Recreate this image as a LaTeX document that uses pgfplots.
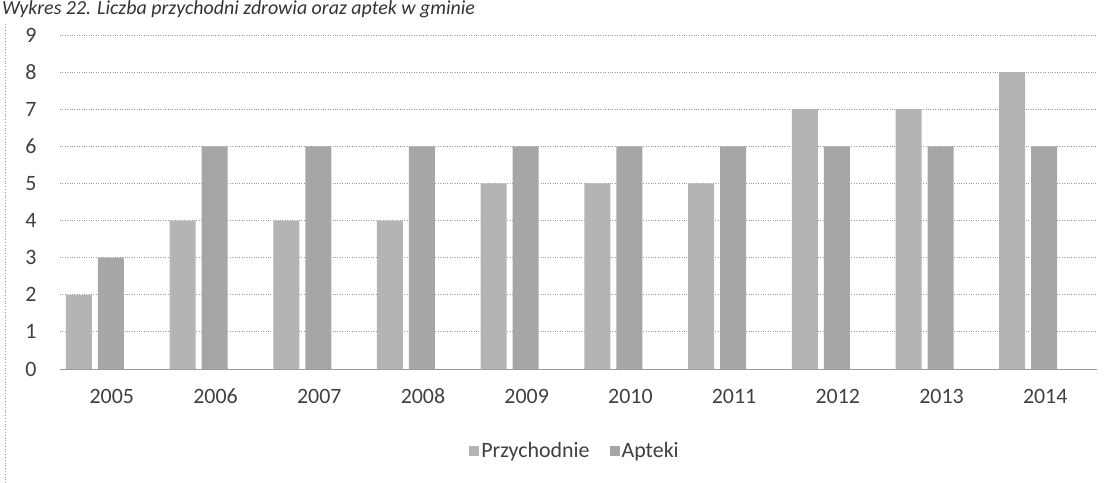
\documentclass[border=0pt]{standalone}
\usepackage{pgfplots}
\pgfplotsset{compat=1.18}
\usepackage{fontspec}
\setmainfont{Carlito}
\definecolor{txt}{HTML}{404040}
\definecolor{gridc}{HTML}{9A9A9A}
\definecolor{cprz}{HTML}{B4B4B4}
\definecolor{capt}{HTML}{A6A6A6}
\begin{document}
\begin{tikzpicture}
\begin{axis}[
  at={(0,0)}, anchor=south west,
  scale only axis,
  width=1037bp, height=334bp,
  ybar,
  bar width=26bp,
  xmin=-0.5, xmax=9.5,
  ymin=0, ymax=9,
  xtick={0,1,2,3,4,5,6,7,8,9},
  xticklabels={2005,2006,2007,2008,2009,2010,2011,2012,2013,2014},
  ytick={0,1,2,3,4,5,6,7,8,9},
  axis x line*=bottom,
  axis y line*=left,
  y axis line style={draw=none},
  x axis line style={draw=gridc, line width=0.8bp},
  major tick length=0pt,
  ymajorgrids,
  grid style={draw=gridc, dotted, line width=0.8bp},
  tick label style={font=\fontsize{22}{26}\selectfont, text=txt},
  /pgf/number format/assume math mode=true,
  xticklabel style={anchor=north, yshift=-16bp, text height=15bp, text depth=0bp},
  yticklabel style={anchor=east, xshift=-20bp},
  legend style={at={(0.4966,-0.2455)}, anchor=center, draw=none,
    font=\fontsize{22}{26}\selectfont, text=txt,
    legend columns=-1, /tikz/every even column/.append style={column sep=18bp}},
  legend image code/.code={\fill[#1] (0bp,-5bp) rectangle (10bp,5bp);},
  clip=false,
]
\addplot[fill=cprz, draw=none, bar shift=-33bp] coordinates {
 (0,2) (1,4) (2,4) (3,4) (4,5) (5,5) (6,5) (7,7) (8,7) (9,8)};
\addplot[fill=capt, draw=none, bar shift=-1bp] coordinates {
 (0,3) (1,6) (2,6) (3,6) (4,6) (5,6) (6,6) (7,6) (8,6) (9,6)};
\legend{Przychodnie, Apteki}
\end{axis}
\node[anchor=base west, font=\fontsize{20}{24}\selectfont\itshape, text=black!80, inner sep=0pt] at (-58bp,354bp) {Wykres 22. Liczba przychodni zdrowia oraz aptek w gminie};
\draw[gridc, dotted, line width=0.8bp] (-55bp,-114bp) -- (-55bp,345bp);
\pgfresetboundingbox
\useasboundingbox (-60bp,-114bp) rectangle (1053bp,369bp);
\end{tikzpicture}
\end{document}
